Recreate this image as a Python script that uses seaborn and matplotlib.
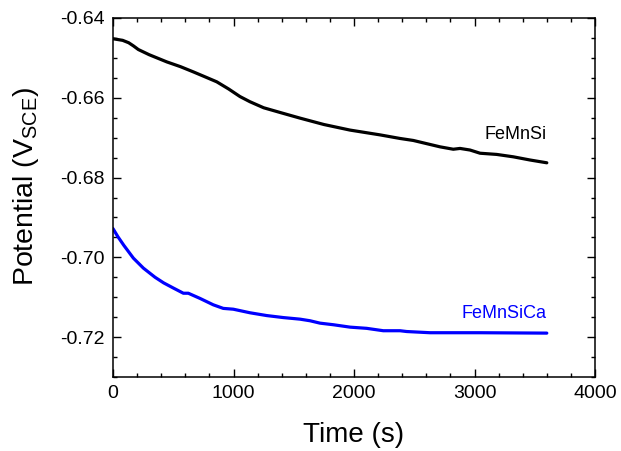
import numpy as np
import pandas as pd
import matplotlib
matplotlib.use("Agg")
import matplotlib.pyplot as plt
from matplotlib.ticker import MultipleLocator
import seaborn as sns

# ---- data ----
t_femnsi = [0, 80, 130, 170, 210, 300, 446, 560, 666, 760, 861, 960, 1054, 1137, 1250,
            1400, 1552, 1750, 1967, 2216, 2382, 2492, 2714, 2824, 2880, 2963, 3046,
            3184, 3322, 3461, 3600]
v_femnsi = [-0.6452, -0.6456, -0.6462, -0.6470, -0.6479, -0.6492, -0.6510, -0.6522,
            -0.6535, -0.6547, -0.6560, -0.6578, -0.6597, -0.6610, -0.6625, -0.6638,
            -0.6651, -0.6667, -0.6681, -0.6693, -0.6702, -0.6707, -0.6723, -0.6729,
            -0.6727, -0.6731, -0.6739, -0.6742, -0.6748, -0.6756, -0.6763]

t_femnsica = [0, 40, 90, 169, 252, 349, 420, 501, 584, 625, 722, 832, 915, 998,
              1137, 1276, 1413, 1552, 1635, 1718, 1829, 1967, 2105, 2243, 2382, 2437,
              2631, 3046, 3600]
v_femnsica = [-0.6928, -0.6948, -0.6970, -0.7002, -0.7027, -0.7050, -0.7064,
              -0.7077, -0.7090, -0.7090, -0.7103, -0.7119, -0.7128, -0.7130, -0.7139,
              -0.7146, -0.7151, -0.7155, -0.7159, -0.7165, -0.7169, -0.7175, -0.7178,
              -0.7184, -0.7184, -0.7186, -0.7189, -0.7189, -0.7190]

series_names = ["FeMnSi", "FeMnSiCa"]
series_colors = ["#000000", "#0000ff"]
x_ticks = [0, 1000, 2000, 3000, 4000]
y_ticks = [-0.72, -0.70, -0.68, -0.66, -0.64]

df = pd.concat([
    pd.DataFrame({"Time": t_femnsi, "Potential": v_femnsi, "Alloy": series_names[0]}),
    pd.DataFrame({"Time": t_femnsica, "Potential": v_femnsica, "Alloy": series_names[1]}),
])

sns.set_theme(style="ticks")
plt.rcParams["font.family"] = ["Liberation Sans", "DejaVu Sans"]
plt.rcParams["mathtext.fontset"] = "custom"
plt.rcParams["mathtext.rm"] = "Liberation Sans"
plt.rcParams["mathtext.default"] = "regular"
plt.rcParams["axes.unicode_minus"] = False
plt.rcParams["text.color"] = "black"
plt.rcParams["axes.labelcolor"] = "black"

fig = plt.figure(figsize=(6.21, 4.51), dpi=100)
ax = fig.add_axes([113 / 621, 1 - 377 / 451, (595 - 113) / 621, (377 - 18) / 451])

sns.lineplot(data=df, x="Time", y="Potential", hue="Alloy",
             palette=dict(zip(series_names, series_colors)),
             linewidth=2.3, legend=False, ax=ax, estimator=None, sort=False)

ax.set_xlim(0, 4000)
ax.set_ylim(-0.73, -0.64)
ax.set_xticks(x_ticks)
ax.set_yticks(y_ticks)
ax.set_xticklabels([str(v) for v in x_ticks])
ax.set_yticklabels([f"{v:.2f}" for v in y_ticks])
ax.xaxis.set_minor_locator(MultipleLocator(200))
ax.yaxis.set_minor_locator(MultipleLocator(0.005))

for s in ax.spines.values():
    s.set_visible(True)
    s.set_linewidth(1.1)
    s.set_color("black")

ax.tick_params(which="both", direction="in", top=True, right=True, colors="black",
               labelsize=14, width=1.0)
ax.tick_params(which="major", length=5.5, pad=6)
ax.tick_params(which="minor", length=2.8)

ax.set_xlabel("Time (s)", fontsize=20, color="black")
ax.set_ylabel("Potential (V$_{SCE}$)", fontsize=20.5, color="black")
ax.xaxis.set_label_coords(0.5, -0.125)
ax.yaxis.set_label_coords(-0.15, 0.53)

ax.text(3600, -0.6693, series_names[0], color=series_colors[0], fontsize=13,
        ha="right", va="center")
ax.text(3600, -0.7140, series_names[1], color=series_colors[1], fontsize=13,
        ha="right", va="center")

fig.savefig("out.png", dpi=100)
